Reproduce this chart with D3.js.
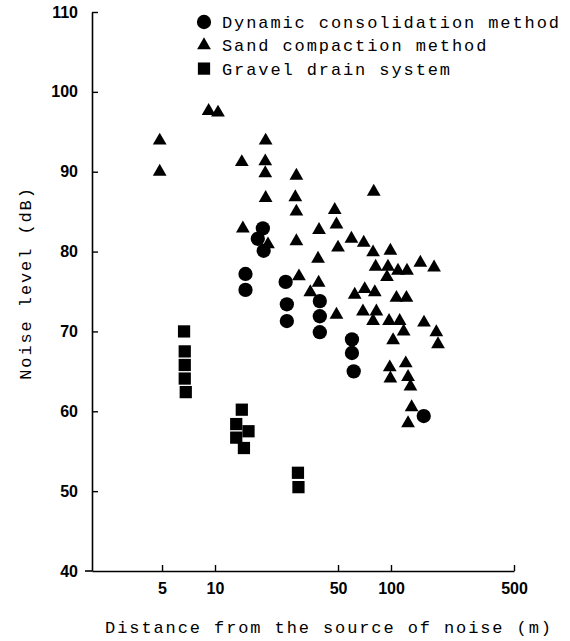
<!DOCTYPE html>
<html>
<head>
<meta charset="utf-8">
<script src="https://cdn.jsdelivr.net/npm/d3@7"></script>
<style>
  html, body { margin: 0; padding: 0; background: #fff; }
  svg { display: block; }
</style>
</head>
<body>
<svg id="chart" width="570" height="641"></svg>
<script>
// ---- data ----
const seriesNames = ["Dynamic consolidation method", "Sand compaction method", "Gravel drain system"];
const xTickValues = [5, 10, 50, 100, 500];
const yTickValues = [40, 50, 60, 70, 80, 90, 100, 110];

const dynamicDist  = [18.7, 17.5, 18.9, 14.9, 14.9, 25.2, 25.6, 25.6, 39.4, 39.4, 39.4, 60.0, 60.0, 61.4, 153.5];
const dynamicNoise = [82.9, 81.6, 80.1, 77.2, 75.2, 76.2, 73.4, 71.3, 73.8, 71.9, 69.9, 69.0, 67.3, 65.0, 59.4];

const sandDist  = [4.85, 4.85, 9.2, 10.4, 14.2, 14.4, 19.4, 19.3, 19.3, 19.4, 20.0, 29.0, 28.6, 29.0, 29.0, 30.0,
                   34.8, 38.5, 38.8, 39.0, 47.9, 49.0, 50.0, 49.0, 59.6, 62.2, 69.3, 70.0, 70.9, 79.1, 79.8, 80.9,
                   82.6, 79.1, 81.8, 94.9, 96.1, 99.2, 97.5, 98.4, 99.2, 102.8, 107.4, 109.6, 112, 118, 121.3,
                   122.4, 123.3, 125, 125, 129, 131, 146.8, 154, 175.7, 181, 185];
const sandNoise = [93.9, 90.0, 97.6, 97.4, 91.2, 82.9, 93.9, 91.3, 89.8, 86.7, 80.9, 89.5, 86.8, 85.0, 81.3, 76.9,
                   74.9, 79.1, 76.1, 82.7, 85.2, 83.4, 80.5, 72.1, 81.6, 74.6, 72.5, 81.1, 75.3, 79.9, 87.5, 74.9,
                   72.5, 71.3, 78.1, 76.8, 78.1, 80.1, 71.3, 65.5, 64.1, 68.9, 74.2, 77.6, 71.3, 70.0, 66.0,
                   74.2, 77.6, 64.3, 58.5, 63.1, 60.5, 78.6, 71.1, 78.0, 69.9, 68.4];

const gravelDist  = [6.67, 6.73, 6.73, 6.73, 6.82, 14.2, 13.2, 15.5, 13.2, 14.6, 29.6, 29.8];
const gravelNoise = [70.0, 67.5, 65.8, 64.1, 62.4, 60.2, 58.4, 57.5, 56.7, 55.4, 52.3, 50.5];

// ---- chart ----
const svg = d3.select("#chart");
const monoFont = "'Liberation Mono', 'DejaVu Sans Mono', monospace";
const numFont = "'Liberation Sans', Arial, sans-serif";

const x = d3.scaleLog().domain([2, 500]).range([92, 514]);
const y = d3.scaleLinear().domain([40, 110]).range([571, 12]);

// y axis (ticks pointing inward)
const yAxis = d3.axisLeft(y).tickValues(yTickValues).tickSizeInner(-6).tickSizeOuter(0).tickPadding(14)
  .tickFormat(d3.format("d"));
const gy = svg.append("g").attr("transform", "translate(92,0)").call(yAxis);
gy.select(".domain").attr("stroke", "#000").attr("stroke-width", 1.6);
gy.selectAll(".tick line").attr("stroke", "#000").attr("stroke-width", 1.4);
gy.selectAll(".tick").filter(d => d === 40).select("line").remove();
gy.selectAll("text").attr("font-family", numFont).attr("font-size", 16).attr("font-weight", "bold").attr("fill", "#000");

// x axis (ticks pointing upward)
const xAxis = d3.axisBottom(x).tickValues(xTickValues).tickSizeInner(-6).tickSizeOuter(0).tickPadding(12)
  .tickFormat(d3.format("d"));
const gx = svg.append("g").attr("transform", "translate(0,571)").call(xAxis);
gx.select(".domain").attr("stroke", "#000").attr("stroke-width", 1.6);
gx.selectAll(".tick line").attr("stroke", "#000").attr("stroke-width", 1.4);
gx.selectAll("text").attr("font-family", numFont).attr("font-size", 16).attr("font-weight", "bold").attr("fill", "#000");
// small overhang of the baseline left of the y axis
gx.append("line").attr("x1", x.range()[0] - 7).attr("x2", x.range()[0])
  .attr("y1", 0).attr("y2", 0).attr("stroke", "#000").attr("stroke-width", 1.6);

// axis titles
svg.append("text")
  .attr("x", 329).attr("y", 633)
  .attr("text-anchor", "middle")
  .attr("font-family", monoFont).attr("font-size", 17).attr("letter-spacing", "1.9px")
  .attr("fill", "#000")
  .text("Distance from the source of noise (m)");

svg.append("text")
  .attr("transform", "translate(31,283) rotate(-90)")
  .attr("text-anchor", "middle")
  .attr("font-family", monoFont).attr("font-size", 17).attr("letter-spacing", "1.9px")
  .attr("fill", "#000")
  .text("Noise level (dB)");

// markers
const symCircle = d3.symbol().type(d3.symbolCircle).size(160);
const symTri = d3.symbol().type(d3.symbolTriangle).size(82);
const symSquare = d3.symbol().type(d3.symbolSquare).size(150);

const series = [
  { name: seriesNames[0], xs: dynamicDist, ys: dynamicNoise, sym: symCircle },
  { name: seriesNames[1], xs: sandDist, ys: sandNoise, sym: symTri },
  { name: seriesNames[2], xs: gravelDist, ys: gravelNoise, sym: symSquare }
];

series.forEach(s => {
  const pts = s.xs.map((d, i) => ({ d: d, v: s.ys[i] }));
  svg.append("g").selectAll("path").data(pts).join("path")
    .attr("d", s.sym())
    .attr("transform", p => `translate(${x(p.d)},${y(p.v)})`)
    .attr("fill", "#000");
});

// legend
const legend = svg.append("g");
series.forEach((s, i) => {
  const cy = 22 + i * 23.3;
  legend.append("path").attr("d", s.sym()).attr("transform", `translate(204,${cy})`).attr("fill", "#000");
  legend.append("text")
    .attr("x", 222).attr("y", cy).attr("dy", "0.35em")
    .attr("font-family", monoFont).attr("font-size", 17).attr("letter-spacing", "1.9px")
    .attr("fill", "#000")
    .text(s.name);
});
</script>
</body>
</html>
